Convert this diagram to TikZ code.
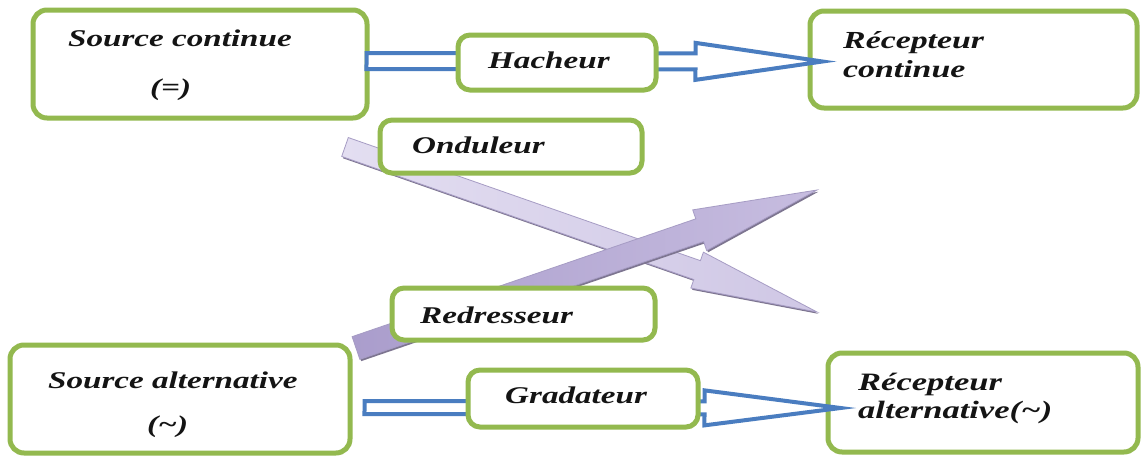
\documentclass[tikz,border=0pt]{standalone}
\usepackage{fontspec}
\newfontfamily\lbf{Liberation Serif}[FakeStretch=1.38]
\usetikzlibrary{calc}
\definecolor{grn}{HTML}{93B94F}
\definecolor{blu}{HTML}{4A7DC0}
\definecolor{lavA}{HTML}{E3DEF1}
\definecolor{lavB}{HTML}{CFC7E5}
\definecolor{lavC}{HTML}{AA9DCC}
\definecolor{lavD}{HTML}{C7BDE0}
\definecolor{lavE}{HTML}{A69CC4}
\definecolor{shd}{HTML}{7D7590}
\newcommand{\arrowshape}[6]{% #1 style, #2 start, #3 tip, #4 half body, #5 half head, #6 head length
  \path (#2) coordinate (AS) (#3) coordinate (AT);
  \path ($(AT)!#6!(AS)$) coordinate (AB);
  \draw[#1] ($(AS)!#4!90:(AT)$) -- ($(AB)!#4!-90:(AS)$) -- ($(AB)!#5!-90:(AS)$) -- (AT)
    -- ($(AB)!#5!90:(AS)$) -- ($(AB)!#4!90:(AS)$) -- ($(AS)!#4!-90:(AT)$) -- cycle;
}
\tikzset{
  gbox/.style={draw=grn, line width=5pt, rounded corners=14pt, fill=white, inner sep=0pt},
  lbl/.style={font=\lbf\bfseries\itshape\fontsize{#1}{#1}\selectfont, inner sep=0pt, text=black!92},
  lbl/.default=24,
  hollow/.style={draw=blu, line width=4pt, fill=white, line join=miter},
  fatshadow/.style={fill=shd, draw=none, transform canvas={shift={(1.3pt,-1.8pt)}}},
  fatlight/.style={draw=lavE, line width=0.8pt, left color=lavA, right color=lavB},
  fatdark/.style={draw=lavE, line width=0.8pt, left color=lavC, right color=lavD}
}
\begin{document}
\begin{tikzpicture}[x=1pt, y=-1pt]
\useasboundingbox (0,0) rectangle (1141,456);
\fill[white] (0,0) rectangle (1141,456);

% fat purple arrows
\coordinate (ondS) at (345,147);
\coordinate (ondT) at (817,312);
\coordinate (redS) at (356,348);
\coordinate (redT) at (817,190);
\arrowshape{fatshadow}{ondS}{ondT}{10pt}{19pt}{127pt}
\arrowshape{fatlight}{ondS}{ondT}{10pt}{19pt}{127pt}
\arrowshape{fatshadow}{redS}{redT}{12pt}{21.5pt}{124pt}
\arrowshape{fatdark}{redS}{redT}{12pt}{21.5pt}{124pt}

% boxes
\node[gbox, minimum width=334pt, minimum height=108pt] (sc) at (200,64) {};
\node[gbox, minimum width=327pt, minimum height=97pt] (rc) at (973.5,59.5) {};
\node[gbox, minimum width=340pt, minimum height=108pt] (sa) at (180,399) {};
\node[gbox, minimum width=310pt, minimum height=99pt] (ra) at (983,402.5) {};
\node[gbox, rounded corners=12pt, minimum width=262pt, minimum height=53pt] (ond) at (511,146.5) {};
\node[gbox, rounded corners=12pt, minimum width=263pt, minimum height=52pt] (red) at (523.5,314) {};

% hollow blue arrows
\coordinate (h1s) at ($(sc.east)+(-3,-3)$);
\coordinate (h1t) at ($(rc.west)+(15,2)$);
\arrowshape{hollow}{h1s}{h1t}{8pt}{18.5pt}{127pt}
\coordinate (h2s) at ($(sa.east)+(12,8.5)$);
\coordinate (h2t) at ($(ra.west)+(15,5.5)$);
\arrowshape{hollow}{h2s}{h2t}{6.5pt}{17.5pt}{136pt}

\node[gbox, rounded corners=12pt, minimum width=198pt, minimum height=55pt] (hach) at (557,62.5) {};
\node[gbox, rounded corners=12pt, minimum width=230pt, minimum height=57pt] (grad) at (583,398.5) {};

% texts
\node[lbl, anchor=base west] (t1) at (68,46) {Source continue};
\node[lbl, anchor=base west] (t2) at (150,95) {(=)};
\node[lbl, anchor=base west] (t3) at (488,68) {Hacheur};
\node[lbl=24.5, anchor=base west] (t4) at (843,48) {Récepteur};
\node[lbl=24.5, anchor=base west] (t5) at (843,77) {continue};
\node[lbl, anchor=base west] (t6) at (412,153) {Onduleur};
\node[lbl, anchor=base west] (t7) at (420,323) {Redresseur};
\node[lbl, anchor=base west] (t8) at (48,388) {Source alternative};
\node[lbl, anchor=base west] (t9) at (147,432) {(\textasciitilde)};
\node[lbl, anchor=base west] (t10) at (505,403) {Gradateur};
\node[lbl=25, anchor=base west] (t11) at (858,390) {Récepteur};
\node[lbl=25, anchor=base west] (t12) at (858,418) {alternative(\textasciitilde)};
\end{tikzpicture}
\end{document}
